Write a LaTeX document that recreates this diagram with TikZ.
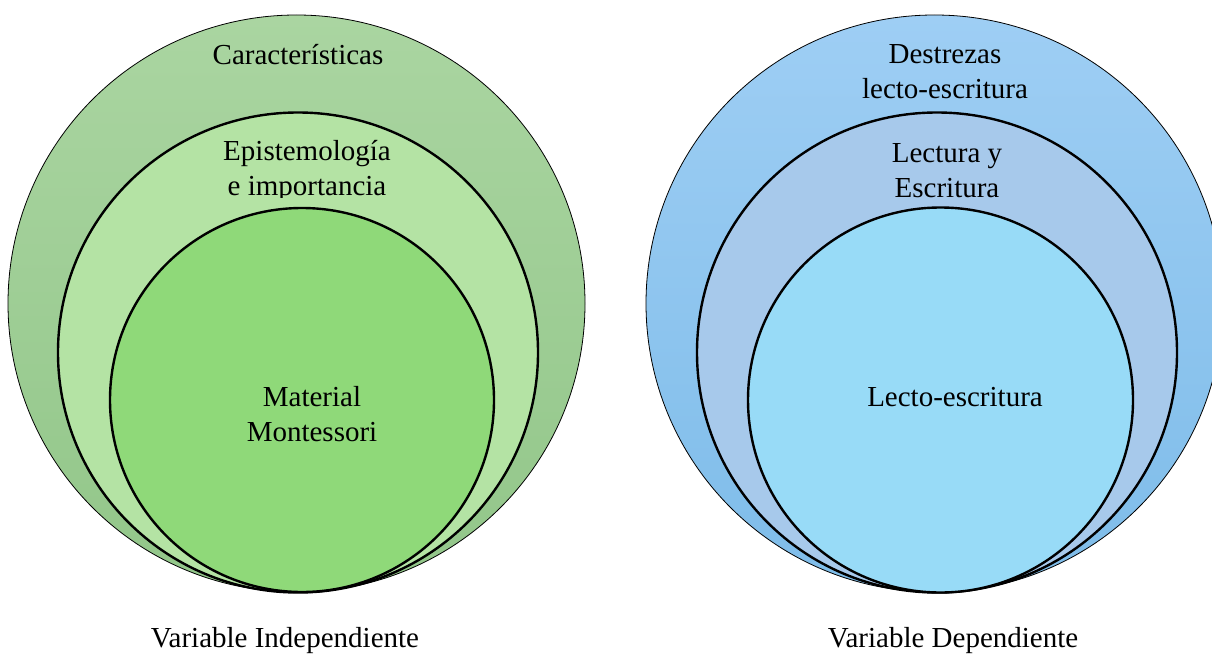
\documentclass[tikz,border=0pt]{standalone}
\usepackage{fontspec}
\setmainfont{Liberation Serif}
\newfontfamily\vennfont{Liberation Serif}
\definecolor{leafouttop}{RGB}{170,213,161}
\definecolor{leafoutbot}{RGB}{146,198,137}
\definecolor{leafmid}{RGB}{180,227,164}
\definecolor{leafin}{RGB}{143,217,121}
\definecolor{skyouttop}{RGB}{158,206,244}
\definecolor{skyoutbot}{RGB}{126,188,233}
\definecolor{skymid}{RGB}{167,201,235}
\definecolor{skyin}{RGB}{152,219,247}

\begin{document}
\begin{tikzpicture}[x=1pt,y=-1pt,font=\vennfont\fontsize{29}{35}\selectfont]
    \tikzstyle{outer ring}=[circle,draw=black,line width=0.8pt,inner sep=0pt]
    \tikzstyle{ring}=[circle,draw=black,line width=2.4pt,inner sep=0pt]
    \tikzstyle{setname}=[align=center,inner sep=0pt]

    \useasboundingbox (0,0) rectangle (1212,658);

    % independiente
    \node[outer ring,minimum size=577pt,top color=leafouttop,bottom color=leafoutbot] (LA) at (296.5,303.5) {};
    \node[setname] (LAt) at (298,55) {Características};
    \node[ring,minimum size=480pt,fill=leafmid] (LB) at (298,352.5) {};
    \begin{scope}
      \clip (0,0) rectangle (1212,197);
      \node[setname] (LBt) at (307,171) {Epistemología\\e importancia};
    \end{scope}
    \node[ring,minimum size=384pt,fill=leafin] (LC) at (302,400) {};
    \node[setname] (LCt) at (312,414) {Material\\Montessori};
    \node[setname] (LV) at (285,641) {Variable Independiente};

    % dependiente
    \node[outer ring,minimum size=577pt,top color=skyouttop,bottom color=skyoutbot] (RA) at (934.5,303.5) {};
    \node[setname] (RAt) at (945,72) {Destrezas\\lecto-escritura};
    \node[ring,minimum size=480pt,fill=skymid] (RB) at (937,352.5) {};
    \node[setname] (RBt) at (947,171) {Lectura y\\Escritura};
    \node[ring,minimum size=385pt,fill=skyin] (RC) at (940.5,400) {};
    \node[setname] (RCt) at (955,397) {Lecto-escritura};
    \node[setname] (RV) at (953,641) {Variable Dependiente};

\end{tikzpicture}
\end{document}
